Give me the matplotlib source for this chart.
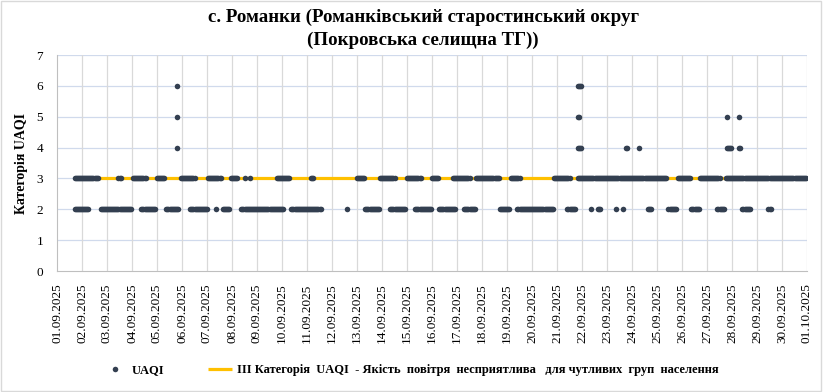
import numpy as np
import matplotlib.pyplot as plt
from matplotlib.patches import Rectangle

plt.rcParams['font.family'] = ['Liberation Serif', 'DejaVu Serif']

# hourly index from 01.09.2025 00:00; runs as (first hour, last hour)
runs_3 = [(17, 39), (59, 61), (73, 85), (96, 103), (119, 132), (145, 157), (167, 173),
          (180, 180), (185, 185), (211, 223), (244, 246), (288, 295), (310, 324),
          (336, 349), (360, 366), (380, 396), (402, 424), (436, 444), (477, 492),
          (500, 585), (596, 608), (617, 636), (642, 719)]
runs_2 = [(17, 30), (42, 71), (81, 94), (105, 116), (128, 144), (153, 153), (159, 165),
          (177, 217), (225, 253), (278, 278), (296, 309), (320, 334), (344, 359),
          (367, 382), (391, 401), (425, 434), (442, 476), (490, 497), (513, 513),
          (519, 521), (537, 537), (543, 543), (567, 570), (587, 594), (609, 616),
          (634, 640), (658, 665), (683, 685)]
runs_4 = [(115, 115), (500, 503), (546, 547), (559, 559), (643, 647), (655, 656)]
runs_5 = [(115, 115), (500, 501), (643, 643), (655, 655)]
runs_6 = [(115, 115), (500, 503)]

threshold = 3
date_labels = [f'{d:02d}.09.2025' for d in range(1, 31)] + ['01.10.2025']


def expand(runs, level):
    hrs = np.concatenate([np.arange(a, b + 1) for a, b in runs])
    return hrs, np.full(len(hrs), level)


xs, ys = [], []
for runs, lvl in [(runs_2, 2), (runs_3, 3), (runs_4, 4), (runs_5, 5), (runs_6, 6)]:
    h, v = expand(runs, lvl)
    xs.append(h)
    ys.append(v)
xs = np.concatenate(xs)
ys = np.concatenate(ys)

fig = plt.figure(figsize=(8.23, 3.92), dpi=100)
ax = fig.add_axes([57 / 823, 1 - 271 / 392, 750 / 823, 216 / 392])

line, = ax.plot([17, 720], [threshold, threshold], color='#FFC000', lw=2.3, zorder=2,
                solid_capstyle='butt')
pts, = ax.plot(xs, ys, 'o', color='#333F50', ms=4, mec='none', zorder=3)

ax.set_xlim(0, 720)
ax.set_ylim(0, 7)
ax.set_xticks(np.arange(0, 721, 24))
ax.set_xticklabels(date_labels, rotation=90, fontsize=9.5)
ax.set_yticks(range(8))
ax.tick_params(axis='y', labelsize=9.5, length=0, pad=10)
ax.tick_params(axis='x', length=0, pad=9)

for y in range(1, 8):
    ax.axhline(y, color='#D0DAEC', lw=0.9, zorder=1)
for x in range(24, 721, 24):
    ax.axvline(x, color='#D9D9D9', lw=0.9, zorder=1)

for s in ['top', 'right']:
    ax.spines[s].set_visible(False)
ax.spines['left'].set_color('#BFBFBF')
ax.spines['bottom'].set_color('#BFBFBF')

ax.set_ylabel('Категорія UAQI', fontsize=10, fontweight='bold', labelpad=6)

fig.text(0.514, 0.957, 'с. Романки (Романківський старостинський округ',
         ha='center', va='center', fontsize=13.6, fontweight='bold')
fig.text(0.514, 0.898, '(Покровська селищна ТГ))',
         ha='center', va='center', fontsize=13.6, fontweight='bold')

leg_font = {'weight': 'bold', 'size': 9}
leg1 = fig.legend([pts], ['UAQI'], loc='center left', bbox_to_anchor=(109 / 823, 0.056),
                  frameon=False, prop=leg_font, handlelength=1.0, handletextpad=0.84,
                  borderpad=0, borderaxespad=0)
leg2 = fig.legend([line],
                  ['ІІІ Категорія  UAQI  - Якість  повітря  несприятлива   для чутливих  груп  населення'],
                  loc='center left', bbox_to_anchor=(208 / 823, 0.056), frameon=False,
                  prop=leg_font, handlelength=1.92, handletextpad=0.4,
                  borderpad=0, borderaxespad=0)

fig.add_artist(Rectangle((0.001, 0.002), 0.997, 0.996, transform=fig.transFigure,
                         fill=False, edgecolor='#D9D9D9', lw=1))

fig.savefig('out.png', dpi=100)
